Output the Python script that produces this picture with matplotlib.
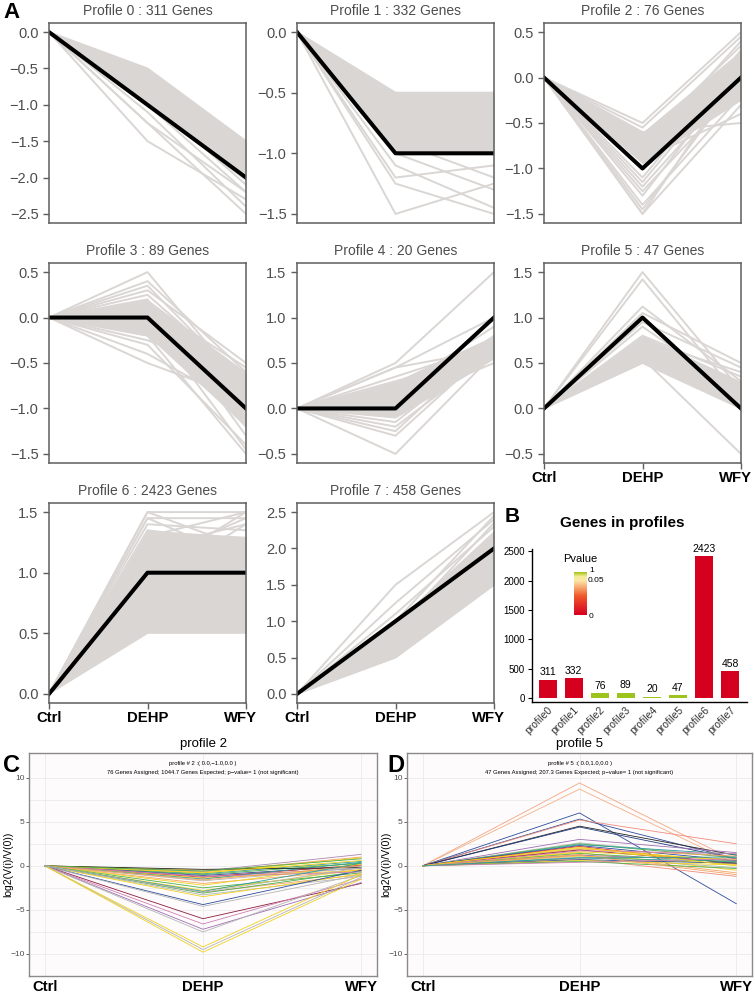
import matplotlib
matplotlib.use('Agg')
import matplotlib.pyplot as plt
import numpy as np
from matplotlib import ticker
from matplotlib.colors import LinearSegmentedColormap
from matplotlib.transforms import ScaledTranslation

plt.rcParams['font.family'] = ['Liberation Sans', 'DejaVu Sans']

W, H = 755, 994
conds = ['Ctrl', 'DEHP', 'WFY']

# ---- panel A : STEM model profiles
genes = [311, 332, 76, 89, 20, 47, 2423, 458]
templ = [[0, -1, -2], [0, -1, -1], [0, -1, 0], [0, 0, -1],
         [0, 0, 1], [0, 1, 0], [0, 1, 1], [0, 1, 2]]
# dense part of the grey bundle (low/high at DEHP and WFY, Ctrl is 0)
core_dehp_lo = [-1.0, -1.0, -0.95, -0.2, -0.1, 0.5, 0.5, 0.5]
core_dehp_hi = [-0.5, -0.5, -0.6, 0.2, 0.3, 0.8, 1.35, 1.0]
core_wfy_lo = [-2.05, -1.0, -0.25, -1.2, 0.55, 0.0, 0.5, 1.5]
core_wfy_hi = [-1.5, -0.5, 0.3, -0.6, 0.8, 0.3, 1.3, 2.25]
# single genes standing out of the bundle
gene_dehp = [
    [-0.5, -0.6, -0.8, -0.9, -1.0, -1.1, -1.25, -1.25, -1.5, -1.0],
    [-0.5, -0.6, -0.9, -1.0, -1.1, -1.2, -1.25, -1.5, -0.8],
    [-0.5, -0.55, -0.7, -0.8, -1.0, -1.1, -1.2, -1.25, -1.3, -1.4, -1.45, -1.5, -1.5, -0.6, -0.9, -0.75, -1.15],
    [0.5, 0.4, 0.3, 0.25, 0.2, 0.1, -0.1, -0.2, -0.3, -0.4, -0.5, 0.15, 0.0, -0.25, 0.35],
    [0.5, 0.45, 0.45, 0.35, 0.3, 0.25, 0.2, 0.2, 0.15, 0.1, 0.05, 0.05, 0.0, -0.05, -0.1, -0.15, -0.2, -0.25, -0.3, -0.5],
    [1.5, 1.42, 1.12, 1.05, 0.95, 0.8, 0.75, 0.7, 0.6, 0.55, 0.5, 0.9],
    [1.5, 1.45, 1.4, 1.5, 1.3, 1.2, 1.45, 1.35, 1.1, 1.0, 0.9],
    [1.5, 1.25, 1.1, 1.0, 0.9, 0.75, 0.5, 0.6],
]
gene_wfy = [
    [-1.5, -1.6, -1.9, -2.1, -2.2, -2.4, -2.5, -2.2, -2.3, -2.0],
    [-0.5, -0.6, -1.2, -1.3, -1.45, -1.1, -1.5, -1.25, -0.9],
    [0.5, 0.45, 0.35, 0.4, 0.3, 0.2, 0.0, -0.1, 0.1, -0.2, 0.0, -0.3, 0.1, -0.5, -0.4, 0.25, 0.15],
    [-0.8, -0.6, -0.5, -0.7, -1.3, -1.1, -1.2, -1.5, -1.4, -1.0, -0.9, -0.55, -1.45, -0.65, -0.75],
    [1.5, 0.65, 1.0, 0.7, 0.6, 0.75, 0.55, 0.9, 0.6, 0.7, 0.5, 0.8, 0.65, 0.6, 0.55, 0.7, 0.62, 0.75, 0.68, 0.6],
    [0.2, 0.1, 0.3, 0.5, 0.45, 0.35, 0.4, 0.2, 0.05, -0.5, 0.0, 0.15],
    [1.5, 1.45, 1.35, 1.2, 1.5, 1.4, 1.1, 1.25, 1.45, 1.5, 1.4],
    [2.5, 2.4, 2.3, 2.45, 2.35, 2.2, 1.5, 1.6],
]

# ---- panel B : genes per profile
prof_names = ['profile%d' % i for i in range(8)]
pvalue = [0, 0, 1, 1, 1, 1, 0, 0]

# ---- panels C / D : log2 expression of the genes of profile 2 and 5
c_dehp = [-0.5, -0.6, -0.7, -0.8, -0.9, -1.0, -1.1, -1.2, -1.3, -1.4, -1.5, -1.7, -2.0, -2.2,
          -2.5, -2.8, -3.0, -3.1, -3.3, -3.5, -4.4, -4.6, -6.0, -6.6, -7.2, -7.5, -9.2, -9.5,
          -9.8, -0.4, -0.8, -1.2, -0.6, -1.6, -2.9, -3.0]
c_wfy = [0.2, 1.3, 1.0, 0.9, 0.5, 0.3, 0.0, -0.3, 0.1, -0.5, 0.4, -0.2, -0.5, 0.2,
         -0.8, -0.4, -1.0, -0.6, -1.2, -0.9, -0.5, -1.0, -2.0, -1.5, -1.9, -1.1, -1.0, -1.3,
         -1.5, -0.2, 0.6, -0.7, 0.8, 0.0, 0.3, -0.2]
c_col = ['#F2D21B', '#A98BB0', '#F4A460', '#F2D21B', '#2E9E9A', '#4DAF4A', '#2B4C9B', '#9E6FB3',
         '#D9383A', '#F2D21B', '#2E9E9A', '#B5B5B5', '#F4A460', '#F2D21B', '#4DAF4A', '#F2D21B',
         '#F4A460', '#4DAF4A', '#B5B5B5', '#F2D21B', '#2B4C9B', '#B5B5B5', '#8E1B3C', '#D17FB0',
         '#9E6FB3', '#B5B5B5', '#F2D21B', '#B5B5B5', '#F2D21B', '#222222', '#F2D21B', '#D17FB0',
         '#4DAF4A', '#F4A460', '#2E9E9A', '#B5B5B5']
d_dehp = [9.4, 8.7, 6.0, 5.3, 5.2, 4.5, 4.4, 3.0, 2.6, 2.5, 2.4, 2.3, 2.2, 2.0, 1.9, 1.8,
          1.6, 1.5, 1.4, 1.3, 1.2, 1.1, 1.0, 0.9, 0.8, 0.7, 0.6, 0.5, 0.4, 1.7, 2.1, 1.2, 0.9]
d_wfy = [0.5, 0.2, -4.3, 0.8, 2.5, 1.2, 0.8, 1.5, 1.0, 0.9, 1.3, 0.6, 0.2, 0.5, 1.1, 0.3,
         0.7, -0.5, 0.4, -0.8, 0.6, 0.2, -0.2, 0.5, -1.2, 0.3, 0.1, -0.3, 0.8, 1.4, 0.0, -1.0, 1.0]
d_col = ['#F4A582', '#F4B183', '#2B4C9B', '#2B4C9B', '#F08C78', '#222222', '#1F3A7A', '#9E6FB3',
         '#B5B5B5', '#4DAF4A', '#2E9E9A', '#2B4C9B', '#D9383A', '#F2D21B', '#F4A460', '#8E1B3C',
         '#F2D21B', '#F2D21B', '#4DAF4A', '#F4A460', '#9E6FB3', '#F2D21B', '#B5B5B5', '#2E9E9A',
         '#F08C78', '#2B4C9B', '#F2D21B', '#4DAF4A', '#D17FB0', '#D17FB0', '#F2D21B', '#F4A460', '#2E9E9A']

GRAY = '#DAD6D4'
FRAME = '#5E5E5E'


def pxax(fig, x0, y0, x1, y1):
    return fig.add_axes([x0 / W, 1 - y1 / H, (x1 - x0) / W, (y1 - y0) / H])


def minus(v, p):
    s = '%.1f' % v
    if s == '-0.0':
        s = '0.0'
    return s.replace('-', '\u2212')


def nudge_last(ax, dx):
    # the right-most condition label sits a little inside the panel
    lab = ax.get_xticklabels()[-1]
    lab.set_transform(lab.get_transform() + ScaledTranslation(dx / 100, 0, ax.figure.dpi_scale_trans))


def profile_panel(ax, i, show_x):
    x = [0, 1, 2]
    ax.fill_between(x, [0, core_dehp_lo[i], core_wfy_lo[i]], [0, core_dehp_hi[i], core_wfy_hi[i]],
                    color=GRAY, lw=0)
    for d, w in zip(gene_dehp[i], gene_wfy[i]):
        ax.plot(x, [0, d, w], color=GRAY, lw=1.4, solid_capstyle='round')
    ax.plot(x, templ[i], color='black', lw=2.9)
    ax.margins(x=0, y=0.05)
    ax.set_title('Profile %d : %d Genes' % (i, genes[i]), fontsize=10, color='#4D4D4D', pad=6)
    ax.yaxis.set_major_locator(ticker.MultipleLocator(0.5))
    ax.yaxis.set_major_formatter(ticker.FuncFormatter(minus))
    ax.tick_params(axis='y', labelsize=10.5, labelcolor='#4D4D4D', color=FRAME, length=4, width=1)
    ax.set_xticks(x)
    if show_x:
        ax.set_xticklabels(conds, fontsize=10.7, fontweight='bold')
        ax.tick_params(axis='x', color=FRAME, length=4, width=1, pad=2)
        nudge_last(ax, -6)
    else:
        ax.set_xticklabels([])
        ax.tick_params(axis='x', length=0)
    for s in ax.spines.values():
        s.set_color(FRAME)
        s.set_linewidth(1.1)


def stem_panel(ax, dehp, wfy, cols, title, l1, l2):
    ax.set_facecolor('#FDFBFC')
    for d, w, c in zip(dehp, wfy, cols):
        ax.plot([0, 1, 2], [0, d, w], color=c, lw=0.6)
    ax.set_xlim(-0.1, 2.1)
    ax.set_ylim(-12.5, 12.8)
    ax.set_yticks([-10, -5, 0, 5, 10])
    ax.set_yticks([-7.5, -2.5, 2.5, 7.5], minor=True)
    ax.set_xticks([0, 1, 2])
    ax.set_xticklabels(conds, fontsize=10.7, fontweight='bold')
    nudge_last(ax, -3)
    ax.grid(True, which='both', color='#EBEBEB', lw=0.6)
    ax.set_axisbelow(True)
    ax.tick_params(axis='x', length=0, pad=3)
    ax.tick_params(axis='y', which='major', labelsize=6, labelcolor='#4D4D4D', color='#4D4D4D',
                   length=2, width=0.6, pad=1)
    ax.tick_params(axis='y', which='minor', length=0)
    ax.yaxis.set_major_formatter(ticker.FuncFormatter(lambda v, p: ('%d' % v).replace('-', '\u2212')))
    ax.set_ylabel('log2(V(i)/V(0))', fontsize=7.5)
    ax.yaxis.set_label_coords(-16 / (ax.get_position().width * W), 0.5)
    ax.set_title(title, fontsize=9.5, pad=4)
    ax.text(0.5, 0.955, l1, transform=ax.transAxes, ha='center', va='center', fontsize=4.2)
    ax.text(0.5, 0.912, l2, transform=ax.transAxes, ha='center', va='center', fontsize=4.2)
    for s in ax.spines.values():
        s.set_color('#8A8A8A')
        s.set_linewidth(1.0)


fig = plt.figure(figsize=(W / 100, H / 100), dpi=100)

lefts = [49, 297, 544]
tops = [23, 263, 503]
for i in range(8):
    r, c = divmod(i, 3)
    ax = pxax(fig, lefts[c], tops[r], lefts[c] + 197, tops[r] + 200)
    profile_panel(ax, i, i >= 5)

# ---- B
axb = pxax(fig, 532, 549, 747, 702)
cmap = LinearSegmentedColormap.from_list('pv', [(0, '#D7001F'), (0.45, '#F05A2C'),
                                                (0.8, '#FCE6A6'), (0.9, '#F4EC9A'), (1, '#A6C41A')])
bar_cols = ['#D5001E' if p < 0.05 else '#9DC31D' for p in pvalue]
xs = np.arange(len(genes))
axb.bar(xs, genes, width=0.7, color=bar_cols)
for xi, g in zip(xs, genes):
    axb.text(xi, g + 40, str(g), ha='center', va='bottom', fontsize=7.5)
axb.set_xlim(-0.6, 7.65)
axb.set_ylim(-70, 2540)
axb.set_yticks([0, 500, 1000, 1500, 2000, 2500])
axb.set_xticks(xs)
axb.set_xticklabels(prof_names, rotation=45, ha='right', rotation_mode='anchor', fontsize=7.5, color='#333333')
axb.tick_params(axis='y', labelsize=7, length=3, width=0.8, pad=2)
axb.tick_params(axis='x', length=0, pad=2)
for s in ['top', 'right']:
    axb.spines[s].set_visible(False)
for s in ['left', 'bottom']:
    axb.spines[s].set_linewidth(1.0)
fig.text(622 / W, 1 - 523 / H, 'Genes in profiles', ha='center', va='center', fontsize=11, fontweight='bold')

# colour key
axc = pxax(fig, 574, 572, 587, 615)
axc.imshow(np.linspace(0, 1, 100).reshape(-1, 1), aspect='auto', cmap=cmap, origin='lower')
axc.set_axis_off()
fig.text(563 / W, 1 - 559 / H, 'Pvalue', ha='left', va='center', fontsize=8)
fig.text(589 / W, 1 - 571 / H, '1', ha='left', va='center', fontsize=6)
fig.text(588 / W, 1 - 580 / H, '0.05', ha='left', va='center', fontsize=6)
fig.text(589 / W, 1 - 616 / H, '0', ha='left', va='center', fontsize=6)

# ---- C and D
axC = pxax(fig, 29, 753, 377, 976)
stem_panel(axC, c_dehp, c_wfy, c_col, 'profile 2', 'profile # 2 :( 0.0,\u22121.0,0.0 )',
           '76 Genes Assigned; 1044.7 Genes Expected; p\u2212value= 1 (not significant)')
axD = pxax(fig, 407, 753, 752, 976)
stem_panel(axD, d_dehp, d_wfy, d_col, 'profile 5', 'profile # 5 :( 0.0,1.0,0.0 )',
           '47 Genes Assigned; 207.3 Genes Expected; p\u2212value= 1 (not significant)')

for lab, x, y, fs in [('A', 11, 13, 16), ('B', 512, 517, 15), ('C', 11, 765, 17), ('D', 396, 765, 17)]:
    fig.text(x / W, 1 - y / H, lab, ha='center', va='center', fontsize=fs, fontweight='bold')

fig.savefig('out.png', dpi=100)
